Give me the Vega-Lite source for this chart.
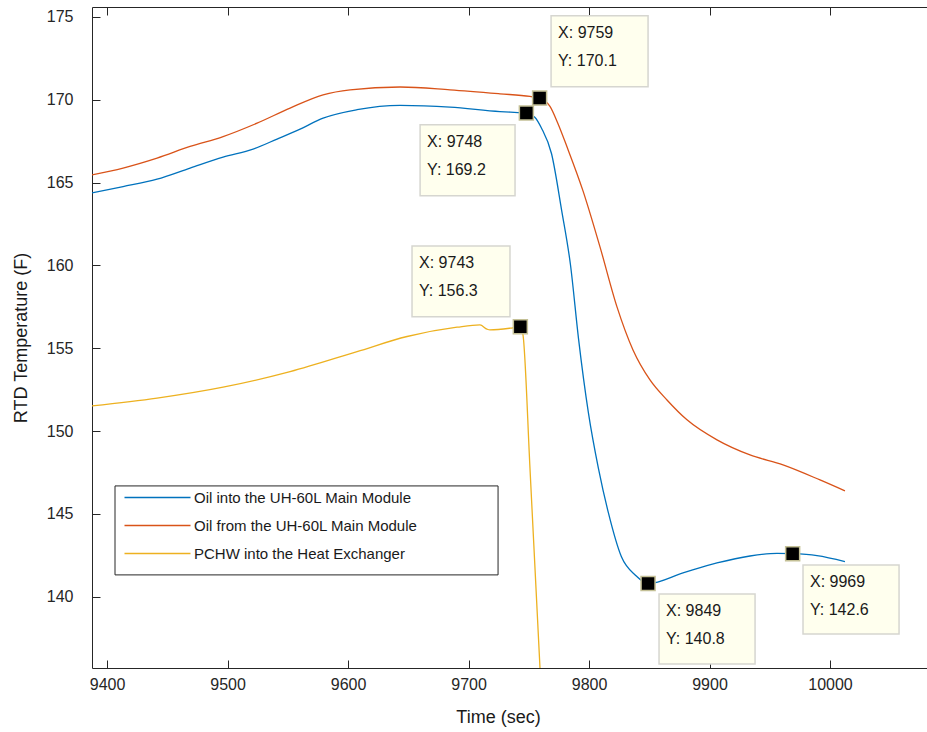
{
  "$schema": "https://vega.github.io/schema/vega-lite/v6.json",
  "width": 835,
  "height": 661,
  "autosize": {"type": "none"},
  "padding": {"left": 92, "top": 7, "right": 0, "bottom": 64},
  "background": "white",
  "config": {
    "view": {"stroke": null},
    "font": "Liberation Sans",
    "axis": {
      "domainColor": "#262626",
      "tickColor": "#262626",
      "labelColor": "#262626",
      "titleColor": "#1a1a1a",
      "labelFont": "Liberation Sans",
      "titleFont": "Liberation Sans",
      "labelFontSize": 16,
      "titleFontSize": 18,
      "titleFontWeight": "normal",
      "grid": false,
      "tickSize": -8,
      "domainWidth": 1,
      "tickWidth": 1
    },
    "legend": {
      "orient": "none",
      "legendX": 58,
      "legendY": 483,
      "symbolType": "M-6.6,0H6.6",
      "symbolSize": 100,
      "symbolStrokeWidth": 1.4,
      "labelFont": "Liberation Sans",
      "labelFontSize": 15,
      "labelColor": "#1a1a1a",
      "labelOffset": 29,
      "rowPadding": 12,
      "padding": 0,
      "labelLimit": 400
    }
  },
  "resolve": {"axis": {"x": "independent"}},
  "datasets": {
    "lines": [
      {"series": "Oil into the UH-60L Main Module", "t": 9387.5, "v": 164.38},
      {"series": "Oil into the UH-60L Main Module", "t": 9413.3, "v": 164.76},
      {"series": "Oil into the UH-60L Main Module", "t": 9441.5, "v": 165.21},
      {"series": "Oil into the UH-60L Main Module", "t": 9468.9, "v": 165.88},
      {"series": "Oil into the UH-60L Main Module", "t": 9496.3, "v": 166.54},
      {"series": "Oil into the UH-60L Main Module", "t": 9521.2, "v": 167.02},
      {"series": "Oil into the UH-60L Main Module", "t": 9541.1, "v": 167.63},
      {"series": "Oil into the UH-60L Main Module", "t": 9560.2, "v": 168.23},
      {"series": "Oil into the UH-60L Main Module", "t": 9579.3, "v": 168.89},
      {"series": "Oil into the UH-60L Main Module", "t": 9607.5, "v": 169.4},
      {"series": "Oil into the UH-60L Main Module", "t": 9643.2, "v": 169.66},
      {"series": "Oil into the UH-60L Main Module", "t": 9684.6, "v": 169.56},
      {"series": "Oil into the UH-60L Main Module", "t": 9726.1, "v": 169.29},
      {"series": "Oil into the UH-60L Main Module", "t": 9741.1, "v": 169.23},
      {"series": "Oil into the UH-60L Main Module", "t": 9748, "v": 169.2},
      {"series": "Oil into the UH-60L Main Module", "t": 9755.0, "v": 168.95},
      {"series": "Oil into the UH-60L Main Module", "t": 9760.5, "v": 168.3},
      {"series": "Oil into the UH-60L Main Module", "t": 9768.9, "v": 166.74},
      {"series": "Oil into the UH-60L Main Module", "t": 9777.2, "v": 163.36},
      {"series": "Oil into the UH-60L Main Module", "t": 9784.6, "v": 160.04},
      {"series": "Oil into the UH-60L Main Module", "t": 9791.3, "v": 155.57},
      {"series": "Oil into the UH-60L Main Module", "t": 9799.5, "v": 151.1},
      {"series": "Oil into the UH-60L Main Module", "t": 9807.8, "v": 147.75},
      {"series": "Oil into the UH-60L Main Module", "t": 9816.1, "v": 145.06},
      {"series": "Oil into the UH-60L Main Module", "t": 9826.9, "v": 142.41},
      {"series": "Oil into the UH-60L Main Module", "t": 9838.5, "v": 141.3},
      {"series": "Oil into the UH-60L Main Module", "t": 9849, "v": 140.8},
      {"series": "Oil into the UH-60L Main Module", "t": 9878.0, "v": 141.44},
      {"series": "Oil into the UH-60L Main Module", "t": 9906.2, "v": 142.04},
      {"series": "Oil into the UH-60L Main Module", "t": 9933.6, "v": 142.46},
      {"series": "Oil into the UH-60L Main Module", "t": 9956.0, "v": 142.62},
      {"series": "Oil into the UH-60L Main Module", "t": 9969, "v": 142.6},
      {"series": "Oil into the UH-60L Main Module", "t": 9989.2, "v": 142.48},
      {"series": "Oil into the UH-60L Main Module", "t": 10012.4, "v": 142.12},
      {"series": "Oil from the UH-60L Main Module", "t": 9387.5, "v": 165.47},
      {"series": "Oil from the UH-60L Main Module", "t": 9413.3, "v": 165.88},
      {"series": "Oil from the UH-60L Main Module", "t": 9441.5, "v": 166.48},
      {"series": "Oil from the UH-60L Main Module", "t": 9468.9, "v": 167.18},
      {"series": "Oil from the UH-60L Main Module", "t": 9496.3, "v": 167.78},
      {"series": "Oil from the UH-60L Main Module", "t": 9524.5, "v": 168.59},
      {"series": "Oil from the UH-60L Main Module", "t": 9551.9, "v": 169.5},
      {"series": "Oil from the UH-60L Main Module", "t": 9579.3, "v": 170.3},
      {"series": "Oil from the UH-60L Main Module", "t": 9601.7, "v": 170.6},
      {"series": "Oil from the UH-60L Main Module", "t": 9643.2, "v": 170.77},
      {"series": "Oil from the UH-60L Main Module", "t": 9684.6, "v": 170.6},
      {"series": "Oil from the UH-60L Main Module", "t": 9726.1, "v": 170.36},
      {"series": "Oil from the UH-60L Main Module", "t": 9751.0, "v": 170.2},
      {"series": "Oil from the UH-60L Main Module", "t": 9759, "v": 170.1},
      {"series": "Oil from the UH-60L Main Module", "t": 9767.6, "v": 169.6},
      {"series": "Oil from the UH-60L Main Module", "t": 9774.0, "v": 168.6},
      {"series": "Oil from the UH-60L Main Module", "t": 9781.7, "v": 167.16},
      {"series": "Oil from the UH-60L Main Module", "t": 9795.0, "v": 164.5},
      {"series": "Oil from the UH-60L Main Module", "t": 9809.1, "v": 161.12},
      {"series": "Oil from the UH-60L Main Module", "t": 9823.2, "v": 157.5},
      {"series": "Oil from the UH-60L Main Module", "t": 9836.5, "v": 154.9},
      {"series": "Oil from the UH-60L Main Module", "t": 9850.6, "v": 153.09},
      {"series": "Oil from the UH-60L Main Module", "t": 9864.7, "v": 151.88},
      {"series": "Oil from the UH-60L Main Module", "t": 9881.3, "v": 150.68},
      {"series": "Oil from the UH-60L Main Module", "t": 9906.2, "v": 149.47},
      {"series": "Oil from the UH-60L Main Module", "t": 9933.6, "v": 148.56},
      {"series": "Oil from the UH-60L Main Module", "t": 9961.0, "v": 147.96},
      {"series": "Oil from the UH-60L Main Module", "t": 9991.7, "v": 147.05},
      {"series": "Oil from the UH-60L Main Module", "t": 10012.4, "v": 146.39},
      {"series": "PCHW into the Heat Exchanger", "t": 9387.5, "v": 151.52},
      {"series": "PCHW into the Heat Exchanger", "t": 9441.5, "v": 151.99},
      {"series": "PCHW into the Heat Exchanger", "t": 9496.3, "v": 152.65},
      {"series": "PCHW into the Heat Exchanger", "t": 9551.9, "v": 153.59},
      {"series": "PCHW into the Heat Exchanger", "t": 9607.5, "v": 154.8},
      {"series": "PCHW into the Heat Exchanger", "t": 9649.0, "v": 155.71},
      {"series": "PCHW into the Heat Exchanger", "t": 9690.5, "v": 156.27},
      {"series": "PCHW into the Heat Exchanger", "t": 9709.5, "v": 156.41},
      {"series": "PCHW into the Heat Exchanger", "t": 9715.4, "v": 156.15},
      {"series": "PCHW into the Heat Exchanger", "t": 9717.8, "v": 156.11},
      {"series": "PCHW into the Heat Exchanger", "t": 9734.4, "v": 156.21},
      {"series": "PCHW into the Heat Exchanger", "t": 9743, "v": 156.3},
      {"series": "PCHW into the Heat Exchanger", "t": 9745.2, "v": 155.81},
      {"series": "PCHW into the Heat Exchanger", "t": 9751.0, "v": 147.75},
      {"series": "PCHW into the Heat Exchanger", "t": 9759.3, "v": 135.7},
      {"series": "PCHW into the Heat Exchanger", "t": 9763.5, "v": 129.78}
    ],
    "tips": [
      {"t": 9759, "v": 170.1, "bx1": 9768.5, "bx2": 9849.0, "by1": 175.07, "by2": 170.79, "xl": "X: 9759", "yl": "Y: 170.1"},
      {"t": 9748, "v": 169.2, "bx1": 9659.8, "bx2": 9738.6, "by1": 168.49, "by2": 164.2, "xl": "X: 9748", "yl": "Y: 169.2"},
      {"t": 9743, "v": 156.3, "bx1": 9653.1, "bx2": 9734.4, "by1": 161.18, "by2": 156.9, "xl": "X: 9743", "yl": "Y: 156.3"},
      {"t": 9849, "v": 140.8, "bx1": 9858.1, "bx2": 9937.8, "by1": 140.17, "by2": 135.94, "xl": "X: 9849", "yl": "Y: 140.8"},
      {"t": 9969, "v": 142.6, "bx1": 9977.6, "bx2": 10057.3, "by1": 141.92, "by2": 137.75, "xl": "X: 9969", "yl": "Y: 142.6"}
    ],
    "frame": [
      {"x1": 9406.6, "x2": 9724.5, "y1": 146.69, "y2": 141.32}
    ]
  },
  "layer": [
    {
      "data": {"name": "frame"},
      "mark": {"type": "rect", "fill": "white", "stroke": "#262626", "strokeWidth": 1},
      "encoding": {
        "x": {"field": "x1", "type": "quantitative", "axis": {"orient": "top", "labels": false, "title": null, "values": [9400, 9500, 9600, 9700, 9800, 9900, 10000]}},
        "x2": {"field": "x2"},
        "y": {"field": "y1", "type": "quantitative"},
        "y2": {"field": "y2"}
      }
    },
    {
      "data": {"name": "lines"},
      "mark": {"type": "line", "clip": true, "strokeWidth": 1.3, "interpolate": "monotone"},
      "encoding": {
        "x": {
          "field": "t", "type": "quantitative",
          "scale": {"domain": [9387.5, 10080.5], "nice": false, "zero": false},
          "axis": {"orient": "bottom", "title": "Time (sec)", "values": [9400, 9500, 9600, 9700, 9800, 9900, 10000], "format": "d", "labelPadding": 16, "titlePadding": 16, "titleX": 406}
        },
        "y": {
          "field": "v", "type": "quantitative",
          "scale": {"domain": [135.7, 175.6], "nice": false, "zero": false},
          "axis": {"title": "RTD Temperature (F)", "values": [140, 145, 150, 155, 160, 165, 170, 175], "labelPadding": 27, "titlePadding": 16}
        },
        "color": {
          "field": "series", "type": "nominal",
          "scale": {
            "domain": ["Oil into the UH-60L Main Module", "Oil from the UH-60L Main Module", "PCHW into the Heat Exchanger"],
            "range": ["#0072BD", "#D95319", "#EDB120"]
          },
          "legend": {"title": null}
        },
        "order": {"field": "t", "type": "quantitative"}
      }
    },
    {
      "data": {"name": "tips"},
      "mark": {"type": "rect", "fill": "#ffffee", "stroke": "#d6d6d0", "strokeWidth": 1.5},
      "encoding": {
        "x": {"field": "bx1", "type": "quantitative", "axis": null},
        "x2": {"field": "bx2"},
        "y": {"field": "by1", "type": "quantitative"},
        "y2": {"field": "by2"}
      }
    },
    {
      "data": {"name": "tips"},
      "mark": {"type": "text", "align": "left", "baseline": "middle", "dx": 7, "dy": 17, "fontSize": 16, "font": "Liberation Sans", "color": "#1a1a1a"},
      "encoding": {
        "x": {"field": "bx1", "type": "quantitative", "axis": null},
        "y": {"field": "by1", "type": "quantitative"},
        "text": {"field": "xl"}
      }
    },
    {
      "data": {"name": "tips"},
      "mark": {"type": "text", "align": "left", "baseline": "middle", "dx": 7, "dy": 45, "fontSize": 16, "font": "Liberation Sans", "color": "#1a1a1a"},
      "encoding": {
        "x": {"field": "bx1", "type": "quantitative", "axis": null},
        "y": {"field": "by1", "type": "quantitative"},
        "text": {"field": "yl"}
      }
    },
    {
      "data": {"name": "tips"},
      "mark": {"type": "point", "shape": "square", "filled": true, "size": 196, "fill": "black", "stroke": "#c4c096", "strokeWidth": 1.5, "opacity": 1},
      "encoding": {
        "x": {"field": "t", "type": "quantitative", "axis": null},
        "y": {"field": "v", "type": "quantitative"}
      }
    }
  ]
}
